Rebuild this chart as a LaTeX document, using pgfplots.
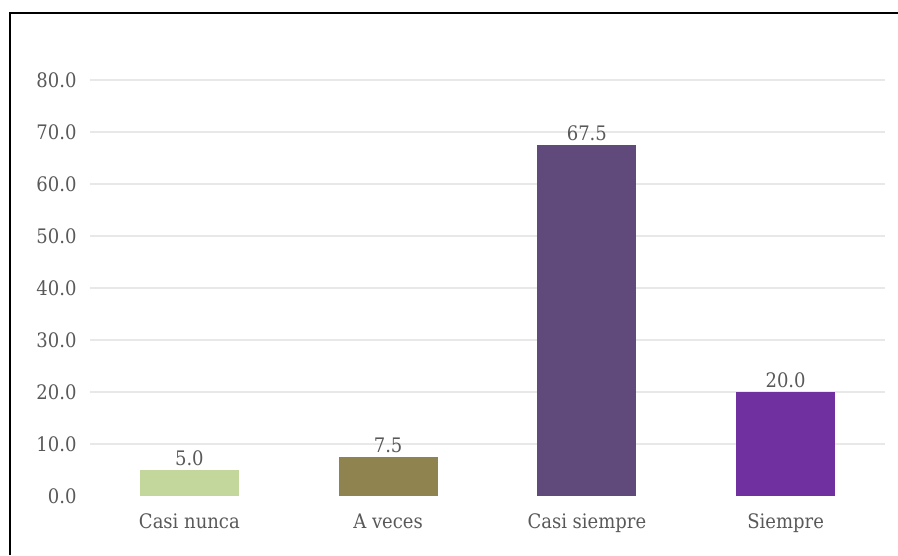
\documentclass[border=0pt]{standalone}
\usepackage{pgfplots}
\pgfplotsset{compat=1.18}
\usepackage{fontspec}
\setmainfont{DejaVu Serif Condensed}
\definecolor{c1}{RGB}{195,214,155}
\definecolor{c2}{RGB}{143,131,80}
\definecolor{c3}{RGB}{96,74,123}
\definecolor{c4}{RGB}{112,48,160}
\definecolor{gridgray}{RGB}{232,232,232}
\definecolor{labelgray}{RGB}{89,89,89}
\begin{document}
\begin{tikzpicture}[x=1pt,y=1pt]
\useasboundingbox (0,0) rectangle (898,555);
\draw[line width=2pt, black] (10,0) -- (10,542) -- (898,542);
\begin{axis}[
  at={(90pt,59pt)}, anchor=south west,
  scale only axis, width=795pt, height=416pt,
  xmin=-0.5, xmax=3.5, ymin=0, ymax=80,
  ytick={10,20,...,80},
  extra y ticks={0},
  extra tick style={grid=none},
  xtick={0,1,2,3},
  xticklabels={Casi nunca, A veces, Casi siempre, Siempre},
  axis line style={draw=none},
  major tick length=0pt,
  ymajorgrids,
  grid style={color=gridgray, line width=1.5pt},
  tick label style={font=\fontsize{20}{24}\selectfont, text=labelgray},
  yticklabel style={xshift=-10pt},
  xticklabel style={yshift=-14pt},
  /pgf/number format/fixed,
  /pgf/number format/fixed zerofill,
  /pgf/number format/precision=1,
  /pgf/number format/assume math mode=true,
  ybar, bar width=99pt, bar shift=0pt,
  nodes near coords,
  nodes near coords style={font=\fontsize{20}{24}\selectfont, text=labelgray, inner sep=1pt, yshift=3pt},
  clip=false,
]
\addplot[fill=c1, draw=none] coordinates {(0,5.0)};
\addplot[fill=c2, draw=none] coordinates {(1,7.5)};
\addplot[fill=c3, draw=none] coordinates {(2,67.5)};
\addplot[fill=c4, draw=none] coordinates {(3,20.0)};
\end{axis}
\end{tikzpicture}
\end{document}
